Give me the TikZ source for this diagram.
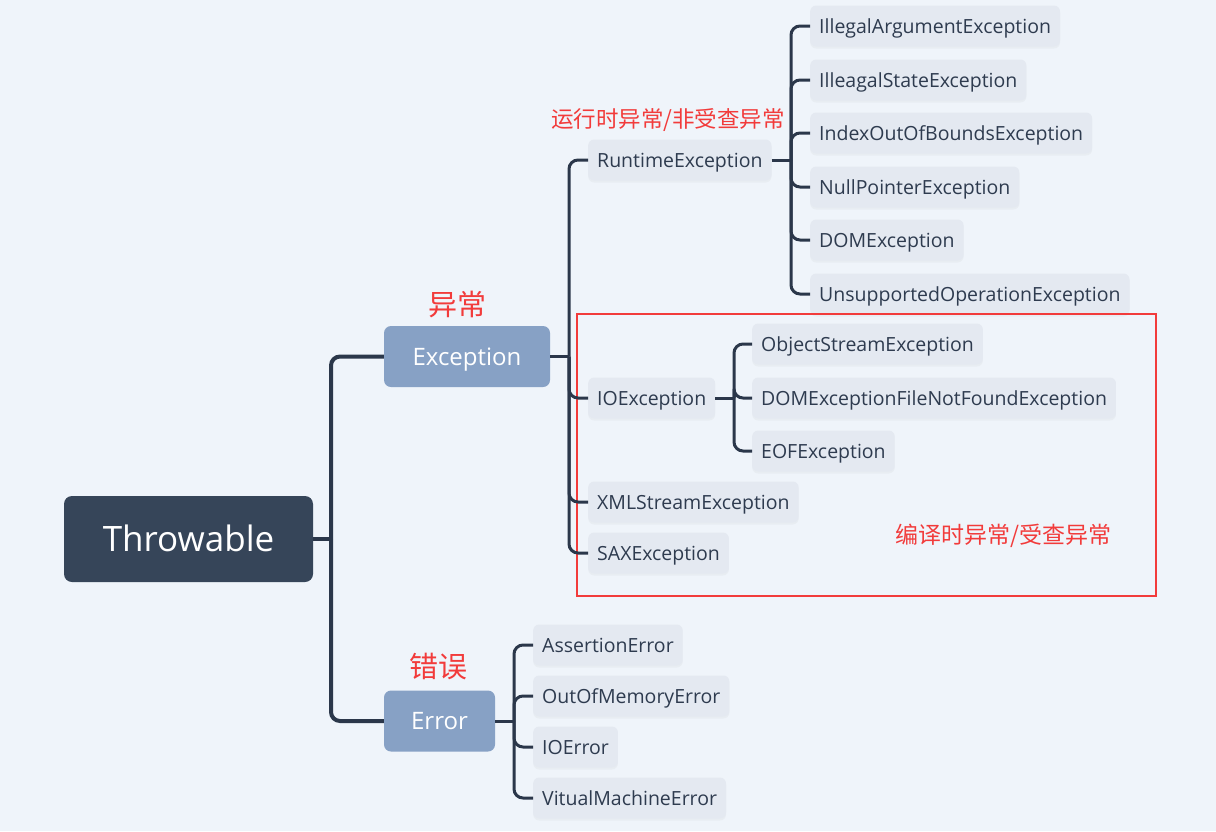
\documentclass[tikz,border=0pt]{standalone}
\usepackage{fontspec}
\setmainfont{Open Sans}
\newfontfamily\cjk{Noto Sans CJK SC}
\usetikzlibrary{shadows}
\definecolor{bg}{HTML}{EFF4FA}
\definecolor{rootfill}{HTML}{364559}
\definecolor{midfill}{HTML}{87A1C5}
\definecolor{leaffill}{HTML}{E4E9F1}
\definecolor{ink}{HTML}{2E3B4F}
\definecolor{wirec}{HTML}{2B374A}
\definecolor{notec}{HTML}{F23B3B}
\tikzset{
  rootbox/.style={fill=rootfill, rounded corners=8pt, text=white,
    font=\fontsize{35}{40}\selectfont, minimum width=249pt, minimum height=86pt,
    text height=25pt, text depth=0pt},
  midbox/.style={fill=midfill, rounded corners=7pt, text=white,
    font=\fontsize{24}{28}\selectfont, minimum height=61pt,
    text height=17pt, text depth=0pt},
  leafbox/.style={fill=leaffill, rounded corners=6pt, text=ink, anchor=west,
    font=\fontsize{19.5}{22}\selectfont, minimum height=41pt, inner xsep=9pt,
    text height=14pt, text depth=0pt,
    drop shadow={opacity=0.06, shadow xshift=0pt, shadow yshift=-2pt}},
  wire/.style={draw=wirec, line width=3pt, rounded corners=9pt},
  notetext/.style={text=notec, inner sep=0pt},
  frame/.style={draw=notec, line width=2pt, inner sep=0pt}
}
\begin{document}
\begin{tikzpicture}[x=1pt,y=-1pt]
  % canvas
  \fill[bg] (0,0) rectangle (1216,831);
  \useasboundingbox (0,0) rectangle (1216,831);

  % root and first level
  \node[rootbox] (thr) at (188.5,539) {Throwable};
  \node[midbox, minimum width=166pt] (exc) at (467,356.5) {Exception};
  \node[midbox, minimum width=111pt] (err) at (439.5,721) {Error};

  % Exception children
  \node[leafbox] (rt)  at (588,160) {RuntimeException};
  \node[leafbox] (io)  at (588,398) {IOException};
  \node[leafbox] (xml) at (588,502) {XMLStreamException};
  \node[leafbox] (sax) at (588,553) {SAXException};

  % RuntimeException children
  \node[leafbox] (iae) at (810,26)  {IllegalArgumentException};
  \node[leafbox] (ise) at (810,80)  {IlleagalStateException};
  \node[leafbox] (ioo) at (810,133) {IndexOutOfBoundsException};
  \node[leafbox] (npe) at (810,187) {NullPointerException};
  \node[leafbox] (dom) at (810,240) {DOMException};
  \node[leafbox] (uoe) at (810,294) {UnsupportedOperationException};

  % IOException children
  \node[leafbox] (ose) at (752,344) {ObjectStreamException};
  \node[leafbox] (fnf) at (752,398) {DOMExceptionFileNotFoundException};
  \node[leafbox] (eof) at (752,451) {EOFException};

  % Error children
  \node[leafbox] (ase) at (533,645) {AssertionError};
  \node[leafbox] (oom) at (533,696) {OutOfMemoryError};
  \node[leafbox] (ioe) at (533,747) {IOError};
  \node[leafbox] (vme) at (533,798) {VitualMachineError};

  % annotations
  \node[notetext, font=\cjk\fontsize{29}{33}\selectfont] (lexc) at (457,305) {异常};
  \node[notetext, font=\cjk\fontsize{29}{33}\selectfont] (lerr) at (438,667) {错误};
  \node[notetext, font=\cjk\fontsize{22.5}{27}\selectfont] (lrt) at (668,120) {运行时异常/非受查异常};
  \node[notetext, font=\cjk\fontsize{23}{28}\selectfont] (lchk) at (1003,536) {编译时异常/受查异常};
  \node[frame, minimum width=579pt, minimum height=282pt] (chk) at (866.5,455) {};

  % branch points
  \coordinate (thrbus) at (331,539);
  \coordinate (excbus) at (569,356.5);
  \coordinate (rtbus)  at (791,160);
  \coordinate (iobus)  at (734,398);
  \coordinate (errbus) at (514,721);

  % connectors
  \draw[wire, line width=4pt] (thr.east) -- (thrbus);
  \foreach \c in {exc,err} \draw[wire, line width=4pt] (thrbus) |- (\c.west);

  \draw[wire] (exc.east) -- (excbus);
  \foreach \c in {rt,io,xml,sax} \draw[wire] (excbus) |- (\c.west);

  \draw[wire] (rt.east) -- (rtbus);
  \foreach \c in {iae,ise,ioo,npe,dom,uoe} \draw[wire] (rtbus) |- (\c.west);

  \draw[wire] (io.east) -- (iobus);
  \foreach \c in {ose,fnf,eof} \draw[wire] (iobus) |- (\c.west);

  \draw[wire] (err.east) -- (errbus);
  \foreach \c in {ase,oom,ioe,vme} \draw[wire] (errbus) |- (\c.west);
\end{tikzpicture}
\end{document}
